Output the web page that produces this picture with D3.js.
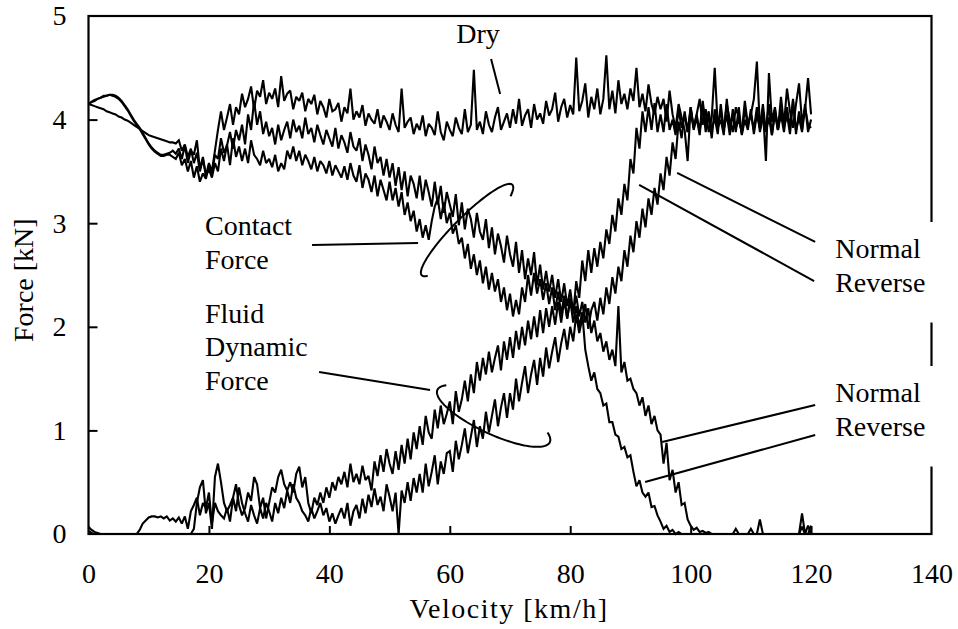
<!DOCTYPE html>
<html>
<head>
<meta charset="utf-8">
<script src="https://cdn.jsdelivr.net/npm/d3@7"></script>
<style>
  html, body { margin: 0; padding: 0; background: #fff; }
  svg { display: block; }
  text { font-family: "Liberation Serif", "Times New Roman", serif; fill: #000; }
</style>
</head>
<body>
<svg id="chart" width="958" height="629"></svg>
<script>
// Sampling grid: velocity in km/h, one sample every 0.5 km/h from 0 to 120
const velocity = d3.range(0, 120.25, 0.5);

const xTicks = [0, 20, 40, 60, 80, 100, 120, 140];
const yTicks = [0, 1, 2, 3, 4, 5];

// Force [kN] per velocity sample
const dry = [
  4.15,4.17,4.18,4.2,4.21,4.22,4.23,4.24,4.24,4.23,
  4.21,4.18,4.14,4.1,4.05,4.0,3.96,3.92,3.87,3.82,
  3.77,3.73,3.7,3.68,3.66,3.66,3.67,3.68,3.7,3.67,
  3.72,3.62,3.75,3.58,3.7,3.66,3.8,3.52,3.64,3.46,
  3.58,3.5,3.7,3.9,4.08,3.9,4.02,4.15,3.95,4.12,
  4.05,4.25,4.12,4.2,4.32,4.1,4.28,4.22,4.38,4.15,
  4.26,4.2,4.3,4.12,4.42,4.18,4.25,4.28,4.1,4.22,
  4.18,4.26,4.08,4.2,4.15,4.24,4.05,4.18,4.12,4.02,
  4.2,4.08,4.1,4.16,3.98,4.12,4.06,4.3,4.0,4.08,
  4.02,4.14,3.94,4.06,4.0,3.96,4.1,3.92,4.04,3.98,
  3.9,4.06,3.95,3.88,4.3,3.92,3.98,4.02,3.86,3.96,
  3.9,4.04,3.84,3.96,3.92,3.85,4.08,3.88,3.8,3.98,
  3.9,3.84,4.02,3.92,3.86,4.1,3.88,3.95,4.48,3.9,
  3.98,3.86,4.08,3.95,3.88,4.02,4.12,3.9,3.98,4.06,
  3.92,4.1,3.96,4.2,3.94,4.04,4.1,3.92,4.15,4.0,
  4.06,3.96,4.18,4.04,4.1,4.26,3.98,4.12,4.2,4.02,
  4.14,4.05,4.6,4.08,4.18,4.35,4.02,4.22,4.1,4.3,
  4.05,4.2,4.62,4.1,4.28,4.06,4.38,4.15,4.25,4.1,
  4.3,4.18,4.5,4.12,4.25,4.08,4.34,4.15,4.05,4.22,
  4.1,4.2,3.98,4.28,4.05,3.92,4.15,4.02,3.9,3.6,
  4.12,3.92,4.05,4.2,3.95,4.1,3.88,4.02,4.5,3.94,
  4.08,3.9,4.15,4.0,3.88,4.12,4.02,3.86,4.1,3.95,
  4.05,4.2,4.56,3.92,4.1,3.6,4.45,3.98,4.12,3.9,
  4.22,3.95,4.3,4.08,3.92,4.15,4.35,3.98,4.1,4.4,
  4.05
];

const contactNormal = [
  4.15,4.17,4.19,4.2,4.21,4.23,4.23,4.24,4.23,4.22,
  4.2,4.17,4.13,4.09,4.04,3.99,3.95,3.91,3.86,3.81,
  3.76,3.72,3.69,3.67,3.65,3.65,3.66,3.66,3.64,3.62,
  3.68,3.56,3.62,3.5,3.6,3.44,3.55,3.4,3.48,3.43,
  3.56,3.48,3.66,3.62,3.82,3.68,3.75,3.88,3.72,3.9,
  3.8,3.95,3.76,4.05,3.9,4.18,3.95,4.08,3.86,3.98,
  3.84,3.92,3.76,3.95,3.8,3.9,3.98,3.82,4.0,3.88,
  3.94,3.82,4.02,3.86,3.92,3.78,3.95,3.85,3.76,3.9,
  3.82,3.74,3.92,3.72,3.85,3.78,3.68,3.88,3.74,3.7,
  3.82,3.6,3.76,3.66,3.52,3.74,3.58,3.64,3.46,3.62,
  3.44,3.58,3.36,3.54,3.32,3.5,3.26,3.46,3.38,3.24,
  3.46,3.22,3.42,3.3,3.16,3.4,3.18,3.36,3.1,3.3,
  3.18,3.06,3.28,2.98,3.2,2.94,3.14,3.04,2.86,3.1,
  2.92,2.84,3.04,2.76,2.96,2.7,2.9,2.78,2.62,2.88,
  2.7,2.58,2.82,2.52,2.74,2.46,2.66,2.5,2.72,2.4,
  2.6,2.36,2.54,2.34,2.5,2.28,2.46,2.24,2.42,2.2,
  2.36,2.14,2.3,2.1,2.24,2.04,2.18,1.94,2.06,1.86,
  1.94,1.76,1.86,1.68,1.78,1.62,2.2,1.56,1.66,1.48,
  1.5,1.4,1.36,1.24,1.32,1.14,1.24,1.06,1.14,1.0,
  0.96,0.68,0.88,0.52,0.62,0.4,0.5,0.28,0.3,0.14,
  0.08,0.04,0.06,0.02,0.03,0.01,0.02,0,0,0,
  0,0,0,0,0,0,0,0,0,0,
  0,0,0,0.14,0,0,0,0,0,0,
  0,0,0,0,0,0,0,0.2,0,0.08,
  0
];

const contactReverse = [
  4.15,4.14,4.13,4.12,4.11,4.1,4.08,4.07,4.06,4.05,
  4.03,4.02,4.0,3.99,3.97,3.95,3.93,3.91,3.89,3.87,
  3.85,3.84,3.83,3.82,3.81,3.8,3.79,3.78,3.78,3.77,
  3.8,3.7,3.76,3.64,3.72,3.58,3.68,3.5,3.62,3.46,
  3.52,3.44,3.58,3.5,3.72,3.6,3.76,3.56,3.82,3.64,
  3.74,3.6,3.72,3.58,3.8,3.66,3.62,3.56,3.7,3.58,
  3.62,3.54,3.66,3.5,3.58,3.52,3.7,3.62,3.74,3.6,
  3.7,3.56,3.66,3.6,3.52,3.64,3.5,3.6,3.56,3.48,
  3.6,3.46,3.56,3.5,3.44,3.55,3.42,3.58,3.46,3.4,
  3.56,3.34,3.48,3.42,3.3,3.46,3.26,3.42,3.32,3.22,
  3.4,3.22,3.34,3.16,3.3,3.08,3.2,3.02,3.12,2.92,
  3.04,2.86,2.98,2.84,3.02,3.16,3.24,3.04,3.2,3.0,
  3.1,2.9,2.98,2.8,2.86,2.66,2.8,2.56,2.7,2.5,
  2.64,2.42,2.58,2.36,2.52,2.34,2.46,2.24,2.38,2.16,
  2.32,2.1,2.26,2.12,2.38,2.24,2.5,2.3,2.52,2.32,
  2.46,2.26,2.42,2.22,2.38,2.16,2.34,2.12,2.3,2.08,
  2.26,2.04,2.2,2.0,2.14,1.78,1.62,1.48,1.56,1.4,
  1.36,1.24,1.26,1.08,1.08,0.96,0.94,0.82,0.84,0.74,
  0.76,0.6,0.46,0.52,0.4,0.36,0.4,0.26,0.27,0.18,
  0.12,0.05,0.08,0.02,0.04,0,0.02,0,0,0,
  0,0,0,0,0,0,0,0,0,0,
  0,0,0,0,0,0.05,0,0,0,0,
  0.05,0,0,0,0,0,0,0,0,0,
  0,0,0,0,0,0,0,0.07,0,0,
  0.08
];

const fluidNormal = [
  0.03,0.01,0,0,0,0,0,0,0,0,
  0,0,0,0,0,0,0,0.04,0.1,0.13,
  0.16,0.17,0.17,0.16,0.17,0.15,0.17,0.13,0.15,0.12,
  0.16,0.1,0.17,0.05,0.22,0.28,0.35,0.18,0.3,0.25,
  0.4,0.1,0.3,0.22,0.18,0.15,0.25,0.12,0.35,0.22,
  0.45,0.3,0.2,0.12,0.28,0.18,0.1,0.25,0.15,0.3,
  0.22,0.12,0.3,0.2,0.35,0.25,0.42,0.3,0.48,0.35,
  0.3,0.22,0.18,0.12,0.25,0.15,0.22,0.3,0.18,0.25,
  0.12,0.2,0.1,0.18,0.25,0.15,0.3,0.08,0.22,0.28,
  0.15,0.34,0.2,0.38,0.26,0.44,0.28,0.36,0.22,0.48,
  0.36,0.22,0.4,0.0,0.42,0.3,0.5,0.32,0.54,0.4,
  0.58,0.4,0.68,0.46,0.6,0.76,0.48,0.7,0.58,0.78,
  0.8,0.6,0.9,0.72,0.86,1.02,0.78,0.94,1.1,0.84,
  1.04,0.92,1.18,0.98,1.14,1.3,1.04,1.22,1.36,1.12,
  1.36,1.2,1.5,1.28,1.46,1.62,1.36,1.54,1.68,1.44,
  1.7,1.52,1.8,1.6,1.76,1.9,1.66,1.84,1.98,1.78,
  2.0,1.86,2.12,1.94,2.08,2.22,1.98,2.16,2.24,2.06,
  2.28,2.12,2.38,2.22,2.48,2.32,2.58,2.44,2.74,2.58,
  2.88,2.72,3.02,2.86,3.14,2.96,3.24,3.08,3.34,3.18,
  3.48,3.32,3.64,3.46,3.78,3.62,3.98,3.82,4.08,3.88,
  4.12,3.92,4.05,3.88,4.18,3.95,4.08,3.9,4.02,3.86,
  4.15,3.9,4.05,3.85,4.1,3.92,4.0,3.88,4.18,3.95,
  4.05,3.9,4.12,3.88,4.02,3.92,4.15,3.85,4.05,3.9,
  4.1,3.92,4.05,3.86,4.18,3.9,4.02,3.88,4.12,3.95,
  3.92
];

const fluidReverse = [
  0.07,0.04,0.02,0.01,0,0,0,0,0,0,
  0,0,0,0,0,0,0,0,0,0,
  0,0,0,0,0,0,0,0,0,0,
  0,0,0,0,0,0.05,0.3,0.45,0.52,0.2,
  0.3,0.05,0.55,0.68,0.5,0.3,0.22,0.28,0.35,0.48,
  0.28,0.18,0.25,0.4,0.32,0.55,0.48,0.25,0.35,0.15,
  0.3,0.45,0.4,0.55,0.62,0.48,0.42,0.5,0.4,0.58,
  0.65,0.45,0.55,0.3,0.2,0.35,0.28,0.4,0.3,0.45,
  0.35,0.5,0.42,0.55,0.48,0.6,0.45,0.68,0.5,0.58,
  0.48,0.66,0.52,0.56,0.42,0.7,0.56,0.76,0.6,0.82,
  0.68,0.58,0.8,0.62,0.86,0.68,0.92,0.72,0.98,0.82,
  1.04,0.86,1.14,0.98,0.92,1.2,1.02,1.24,1.06,1.16,
  1.28,1.06,1.38,1.18,1.3,1.48,1.28,1.54,1.36,1.66,
  1.48,1.7,1.54,1.76,1.56,1.7,1.82,1.58,1.86,1.68,
  1.9,1.7,1.96,1.78,2.0,1.82,2.06,1.88,2.1,1.9,
  2.16,1.94,2.18,2.0,2.2,2.02,2.24,2.04,2.26,2.08,
  2.28,2.12,2.44,2.28,2.64,2.44,2.74,2.52,2.76,2.58,
  2.82,2.66,2.94,2.8,3.08,2.92,3.24,3.08,3.38,3.22,
  3.62,3.48,3.92,3.72,4.08,3.88,4.12,3.9,4.16,3.88,
  4.05,3.88,4.15,3.9,4.0,3.85,4.1,3.92,4.05,3.88,
  4.1,3.9,4.02,3.85,4.15,3.88,4.05,3.82,4.1,3.92,
  4.0,3.85,4.2,3.9,4.05,3.88,4.12,3.85,4.0,3.9,
  4.1,3.86,4.05,3.92,4.15,3.88,4.02,3.85,4.1,3.9,
  4.05,3.88,4.12,3.92,4.2,3.86,4.08,3.9,4.15,3.88,
  4.0
];

const traces = [dry, contactNormal, contactReverse, fluidNormal, fluidReverse];

// Annotations in data units (velocity km/h, force kN)
const labelDry = { text: ["Dry"], v: 64.7, f: 4.74, anchor: "middle" };
const labelContact = { text: ["Contact", "Force"], v: 19.35, f: 2.886, anchor: "start" };
const labelFluid = { text: ["Fluid", "Dynamic", "Force"], v: 19.35, f: 2.037, anchor: "start" };
const labelFluidNR = { text: ["Normal", "Reverse"], v: 124.0, f: 2.664, anchor: "start" };
const labelContactNR = { text: ["Normal", "Reverse"], v: 124.0, f: 1.274, anchor: "start" };

const leaders = [
  [[66.86, 4.585], [68.36, 4.247]],
  [[37.13, 2.79], [54.73, 2.809]],
  [[38.29, 1.564], [56.73, 1.39]],
  [[97.76, 3.485], [120.68, 2.819]],
  [[91.45, 3.369], [120.51, 2.442]],
  [[95.27, 0.888], [120.68, 1.245]],
  [[92.44, 0.502], [120.68, 0.956]]
];

// Group outlines: centre (data units), semi-axes (px), tilt (deg), drawn parameter span
const groupRings = [
  { v: 62.87, f: 2.934, rx: 64, ry: 13, tilt: -45, t0: 0.55, t1: -Math.PI - 0.35 },
  { v: 67.28, f: 1.139, rx: 62, ry: 18, tilt: 25, t0: Math.PI + 0.45, t1: -0.45 }
];

const svg = d3.select("#chart");
const margin = { left: 88.5, right: 26.5, top: 16, bottom: 95 };
const W = 958, H = 629;

const x = d3.scaleLinear().domain([0, 140]).range([margin.left, W - margin.right]);
const y = d3.scaleLinear().domain([0, 5]).range([H - margin.bottom, margin.top]);

// traces
const line = d3.line()
  .x((d, i) => x(velocity[i]))
  .y(d => y(d))
  .curve(d3.curveLinear);

svg.append("g")
  .selectAll("path")
  .data(traces)
  .join("path")
  .attr("d", d => line(d.slice(0, velocity.length)))
  .attr("fill", "none")
  .attr("stroke", "#000")
  .attr("stroke-width", 2.1)
  .attr("stroke-linejoin", "miter")
  .attr("stroke-miterlimit", 2);

// plot frame
svg.append("rect")
  .attr("x", x(0)).attr("y", y(5))
  .attr("width", x(140) - x(0)).attr("height", y(0) - y(5))
  .attr("fill", "none").attr("stroke", "#000").attr("stroke-width", 2.2);

// axes with inward ticks
const xAxis = d3.axisBottom(x).tickValues(xTicks).tickSize(-8).tickPadding(29).tickFormat(d3.format("d"));
const yAxis = d3.axisLeft(y).tickValues(yTicks).tickSize(-9).tickPadding(22).tickFormat(d3.format("d"));

const gx = svg.append("g").attr("transform", `translate(0,${y(0)})`).call(xAxis);
const gy = svg.append("g").attr("transform", `translate(${x(0)},0)`).call(yAxis);
[gx, gy].forEach(g => {
  g.select(".domain").remove();
  g.selectAll(".tick line").attr("stroke", "#000").attr("stroke-width", 2);
  g.selectAll(".tick text").attr("font-size", 28).attr("font-family", "Liberation Serif, Times New Roman, serif").attr("fill", "#000");
});
gx.selectAll(".tick").filter(d => d === 0 || d === 140).select("line").remove();
gy.selectAll(".tick").filter(d => d === 0 || d === 5).select("line").remove();

// axis titles
svg.append("text")
  .attr("x", (x(0) + x(140)) / 2 - 1).attr("y", 618)
  .attr("text-anchor", "middle").attr("font-size", 28).attr("letter-spacing", 1.5)
  .text("Velocity [km/h]");

svg.append("text")
  .attr("transform", `translate(33,${y(2.45)}) rotate(-90)`)
  .attr("text-anchor", "middle").attr("font-size", 28)
  .text("Force [kN]");

// leader lines
svg.append("g")
  .selectAll("line")
  .data(leaders)
  .join("line")
  .attr("x1", d => x(d[0][0])).attr("y1", d => y(d[0][1]))
  .attr("x2", d => x(d[1][0])).attr("y2", d => y(d[1][1]))
  .attr("stroke", "#000").attr("stroke-width", 2);

// group outlines
groupRings.forEach(r => {
  const cx = x(r.v), cy = y(r.f);
  const th = r.tilt * Math.PI / 180;
  const ux = Math.cos(th), uy = Math.sin(th);
  const vx = -Math.sin(th), vy = Math.cos(th);
  const n = 80;
  const pts = d3.range(n + 1).map(k => {
    const t = r.t0 + (r.t1 - r.t0) * k / n;
    const a = r.rx * Math.cos(t), b = r.ry * Math.sin(t);
    return [cx + a * ux + b * vx, cy + a * uy + b * vy];
  });
  svg.append("path")
    .attr("d", d3.line().curve(d3.curveLinear)(pts))
    .attr("fill", "none").attr("stroke", "#000").attr("stroke-width", 2);
});

// text labels; the right-hand ones sit on a white box over the frame
const lineGap = 33.5;
function addLabel(lab, boxed) {
  const g = svg.append("g");
  const t = g.append("text")
    .attr("x", x(lab.v)).attr("y", y(lab.f))
    .attr("text-anchor", lab.anchor).attr("font-size", 28);
  lab.text.forEach((s, i) => {
    t.append("tspan").attr("x", x(lab.v)).attr("y", y(lab.f) + i * lineGap).text(s);
  });
  if (boxed) {
    const bb = t.node().getBBox();
    g.insert("rect", "text")
      .attr("x", bb.x - 4).attr("y", bb.y - 11)
      .attr("width", W - bb.x).attr("height", bb.height + 36)
      .attr("fill", "#fff");
  }
}
addLabel(labelDry, false);
addLabel(labelContact, false);
addLabel(labelFluid, false);
addLabel(labelFluidNR, true);
addLabel(labelContactNR, true);
</script>
</body>
</html>
